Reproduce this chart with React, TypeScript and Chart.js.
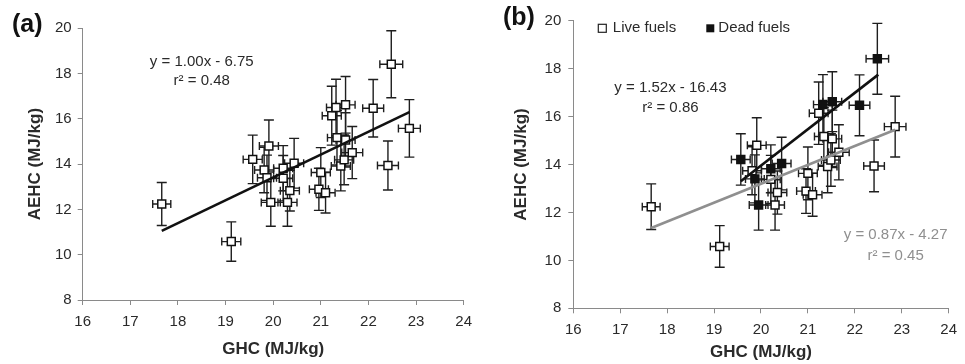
import React, { useEffect, useRef } from 'react';
import { Chart, registerables } from 'chart.js';

Chart.register(...registerables);

// ---- data ----
const ghc = [17.66, 19.12, 19.57, 19.91, 19.81, 19.87, 19.95, 20.21, 20.21, 20.44, 20.35, 20.30, 20.96, 21.00, 21.10, 21.23, 21.32, 21.52, 21.34, 21.52, 21.42, 21.49, 21.66, 22.10, 22.48, 22.41, 22.86];
const aehc = [12.24, 10.58, 14.21, 14.80, 13.74, 13.40, 12.31, 13.82, 13.38, 14.04, 12.83, 12.31, 12.89, 13.63, 12.74, 16.14, 16.50, 16.62, 15.17, 15.07, 13.92, 14.19, 14.51, 16.47, 18.41, 13.94, 15.58];
const ghcErr = [0.19, 0.2, 0.2, 0.2, 0.2, 0.2, 0.2, 0.2, 0.2, 0.2, 0.2, 0.2, 0.2, 0.2, 0.2, 0.2, 0.2, 0.2, 0.2, 0.2, 0.2, 0.2, 0.22, 0.22, 0.24, 0.22, 0.23];
const aehcErr = [0.95, 0.87, 1.07, 1.15, 1.0, 1.0, 1.05, 1.0, 1.0, 1.1, 0.9, 1.05, 0.93, 1.1, 0.9, 1.3, 1.25, 1.25, 1.2, 1.2, 1.1, 1.1, 1.15, 1.27, 1.48, 1.08, 1.27];
const isDead = [0, 0, 1, 0, 0, 1, 1, 1, 0, 1, 0, 0, 0, 0, 0, 0, 1, 1, 0, 0, 0, 0, 0, 1, 1, 0, 0];

const fitAllX = [17.66, 22.86];
const fitAllY = [11.05, 16.3];
const fitLiveX = [17.66, 22.86];
const fitLiveY = [11.35, 15.45];
const fitDeadX = [19.57, 22.5];
const fitDeadY = [13.3, 17.75];

const eqAll = ['y = 1.00x - 6.75', 'r² = 0.48'];
const eqDead = ['y = 1.52x - 16.43', 'r² = 0.86'];
const eqLive = ['y = 0.87x - 4.27', 'r² = 0.45'];
const legendLabels = ['Live fuels', 'Dead fuels'];
const panelLetters = ['(a)', '(b)'];
const xTitle = 'GHC (MJ/kg)';
const yTitle = 'AEHC (MJ/kg)';

const FONT = "'Liberation Sans', Arial, Helvetica, sans-serif";
const TEXT = '#2a2a2a';
const AXIS = '#8a8a8a';
const GREY_LINE = '#8f8f8f';

type Panel = {
  letter: string;
  letterX: number;
  letterY: number;
  padTop: number;
  padRight: number;
  yAxisW: number;
  xAxisH: number;
  yTitlePad: number;
  xTitlePad: number;
  yTickPad: number;
  split: boolean;
};

function pts(idx: number[]) {
  return idx.map((i) => ({ x: ghc[i], y: aehc[i] }));
}

function lineData(xs: number[], ys: number[]) {
  return xs.map((x, i) => ({ x, y: ys[i] }));
}

function decoPlugin(panel: Panel) {
  return {
    id: 'deco',
    beforeDatasetsDraw(chart: any) {
      const { ctx } = chart;
      const xs = chart.scales.x;
      const ys = chart.scales.y;
      ctx.save();
      ctx.strokeStyle = '#1e1e1e';
      ctx.lineWidth = 1.4;
      for (let i = 0; i < ghc.length; i++) {
        const px = xs.getPixelForValue(ghc[i]);
        const py = ys.getPixelForValue(aehc[i]);
        const x0 = xs.getPixelForValue(ghc[i] - ghcErr[i]);
        const x1 = xs.getPixelForValue(ghc[i] + ghcErr[i]);
        const y0 = ys.getPixelForValue(aehc[i] - aehcErr[i]);
        const y1 = ys.getPixelForValue(aehc[i] + aehcErr[i]);
        ctx.beginPath();
        ctx.moveTo(px, y0); ctx.lineTo(px, y1);
        ctx.moveTo(px - 5, y0); ctx.lineTo(px + 5, y0);
        ctx.moveTo(px - 5, y1); ctx.lineTo(px + 5, y1);
        ctx.moveTo(x0, py); ctx.lineTo(x1, py);
        ctx.moveTo(x0, py - 4); ctx.lineTo(x0, py + 4);
        ctx.moveTo(x1, py - 4); ctx.lineTo(x1, py + 4);
        ctx.stroke();
      }
      ctx.restore();
    },
    afterDraw(chart: any) {
      const { ctx, chartArea } = chart;
      const xs = chart.scales.x;
      const ys = chart.scales.y;
      ctx.save();
      // panel letter
      ctx.fillStyle = '#111';
      ctx.font = `bold 25px ${FONT}`;
      ctx.textAlign = 'left';
      ctx.textBaseline = 'middle';
      ctx.fillText(panel.letter, panel.letterX, panel.letterY);

      ctx.font = `15px ${FONT}`;
      ctx.textAlign = 'center';
      const put = (lines: string[], vx: number, vy1: number, vy2: number, color: string) => {
        ctx.fillStyle = color;
        ctx.fillText(lines[0], xs.getPixelForValue(vx), ys.getPixelForValue(vy1));
        ctx.fillText(lines[1], xs.getPixelForValue(vx), ys.getPixelForValue(vy2));
      };
      if (!panel.split) {
        put(eqAll, 18.5, 18.52, 17.67, TEXT);
      } else {
        put(eqDead, 18.07, 17.21, 16.35, TEXT);
        put(eqLive, 22.87, 11.07, 10.17, GREY_LINE);
        // legend
        const ly = chartArea.top + 7.6;
        const lx = chartArea.left;
        ctx.fillStyle = '#fff';
        ctx.strokeStyle = '#222';
        ctx.lineWidth = 1.2;
        ctx.fillRect(lx + 25, ly - 4, 8, 8);
        ctx.strokeRect(lx + 25, ly - 4, 8, 8);
        ctx.fillStyle = '#111';
        ctx.fillRect(lx + 133, ly - 4, 8, 8);
        ctx.fillStyle = TEXT;
        ctx.textAlign = 'left';
        ctx.fillText(legendLabels[0], lx + 39.5, ly);
        ctx.fillText(legendLabels[1], lx + 145, ly);
      }
      ctx.restore();
    },
  };
}

function makeConfig(panel: Panel) {
  const all = ghc.map((_, i) => i);
  const live = all.filter((i) => !isDead[i]);
  const dead = all.filter((i) => isDead[i]);
  const pointBase = {
    type: 'scatter',
    pointStyle: 'rect',
    pointRadius: 5.6,
    pointBorderWidth: 1.5,
    pointBorderColor: '#111',
    showLine: false,
  };
  const datasets: any[] = panel.split
    ? [
        { type: 'scatter', data: lineData(fitDeadX, fitDeadY), showLine: true, borderColor: '#111', borderWidth: 2.6, pointRadius: 0 },
        { type: 'scatter', data: lineData(fitLiveX, fitLiveY), showLine: true, borderColor: GREY_LINE, borderWidth: 2.6, pointRadius: 0 },
        { ...pointBase, data: pts(dead), pointBackgroundColor: '#111' },
        { ...pointBase, data: pts(live), pointBackgroundColor: '#fff' },
      ]
    : [
        { type: 'scatter', data: lineData(fitAllX, fitAllY), showLine: true, borderColor: '#111', borderWidth: 2.6, pointRadius: 0 },
        { ...pointBase, data: pts(all), pointBackgroundColor: '#fff' },
      ];
  return {
    type: 'scatter',
    data: { datasets },
    plugins: [decoPlugin(panel)],
    options: {
      animation: false,
      responsive: false,
      devicePixelRatio: 1,
      layout: { padding: { left: 0, top: panel.padTop, right: panel.padRight, bottom: 0 } },
      plugins: { legend: { display: false }, tooltip: { enabled: false } },
      scales: {
        x: {
          type: 'linear',
          min: 16,
          max: 24,
          afterFit: (s: any) => { s.height = panel.xAxisH; },
          ticks: { stepSize: 1, padding: 8, color: TEXT, font: { family: FONT, size: 15 }, maxRotation: 0, autoSkip: false },
          grid: { drawOnChartArea: false, drawTicks: true, tickLength: 5, color: AXIS },
          border: { color: AXIS, width: 1 },
          title: { display: true, text: xTitle, color: TEXT, font: { family: FONT, size: 17, weight: 'bold' }, padding: { top: 0, bottom: panel.xTitlePad } },
        },
        y: {
          type: 'linear',
          min: 8,
          max: 20,
          afterFit: (s: any) => { s.width = panel.yAxisW; },
          ticks: { stepSize: 2, padding: panel.yTickPad, color: TEXT, font: { family: FONT, size: 15 } },
          grid: { drawOnChartArea: false, drawTicks: true, tickLength: 5, color: AXIS },
          border: { color: AXIS, width: 1 },
          title: { display: true, text: yTitle, color: TEXT, font: { family: FONT, size: 17, weight: 'bold' }, padding: { top: panel.yTitlePad, bottom: 0 } },
        },
      },
    },
  };
}

const panelA: Panel = {
  letter: panelLetters[0], letterX: 12, letterY: 25,
  padTop: 28.3, padRight: 13, yAxisW: 82.7, xAxisH: 64,
  yTitlePad: 25, xTitlePad: 4, yTickPad: 6, split: false,
};
const panelB: Panel = {
  letter: panelLetters[1], letterX: 18, letterY: 18,
  padTop: 20.7, padRight: 10, yAxisW: 88.3, xAxisH: 55.7,
  yTitlePad: 26.5, xTitlePad: 1, yTickPad: 7, split: true,
};

function ChartPanel({ panel, left }: { panel: Panel; left: number }) {
  const ref = useRef<HTMLCanvasElement | null>(null);
  useEffect(() => {
    if (!ref.current) return;
    const chart = new Chart(ref.current, makeConfig(panel) as any);
    return () => chart.destroy();
  }, [panel]);
  return (
    <div style={{ position: 'absolute', left, top: 0, width: 480, height: 364 }}>
      <canvas ref={ref} width={480} height={364} style={{ width: 480, height: 364, display: 'block' }} />
    </div>
  );
}

export default function App() {
  return (
    <div style={{ position: 'fixed', left: 0, top: 0, width: 965, height: 364, background: '#fff', overflow: 'hidden' }}>
      <ChartPanel panel={panelA} left={0} />
      <ChartPanel panel={panelB} left={485} />
    </div>
  );
}
